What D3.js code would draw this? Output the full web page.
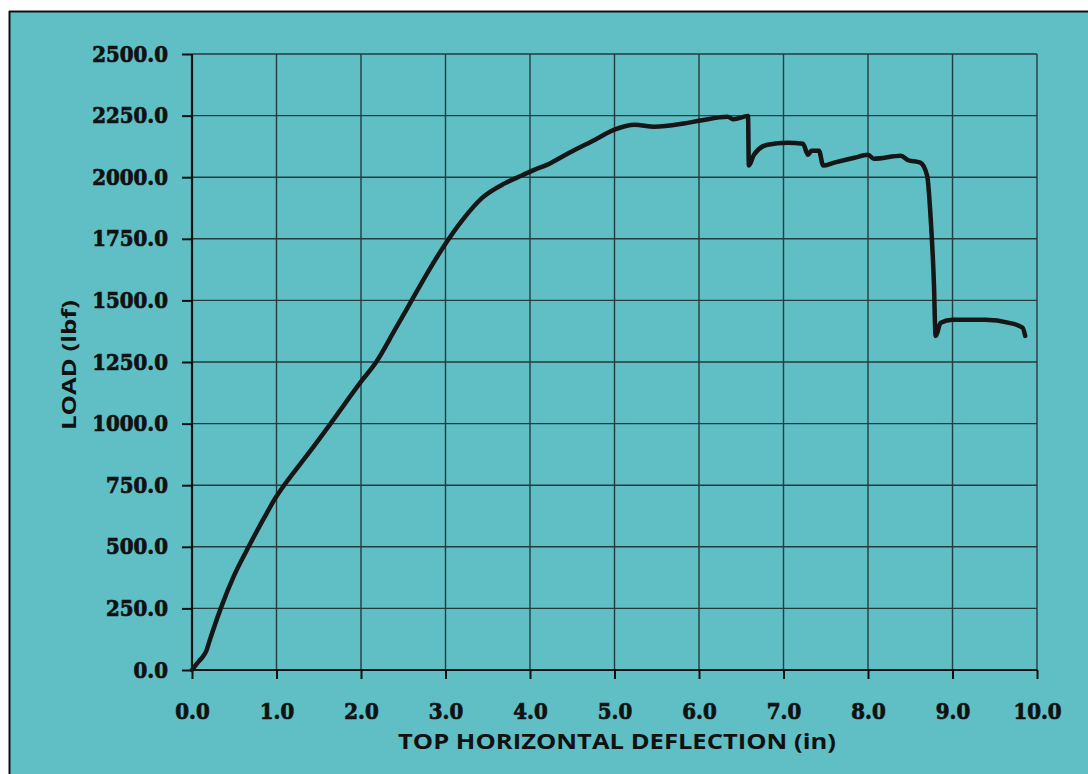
<!DOCTYPE html>
<html><head><meta charset="utf-8">
<script src="https://cdn.jsdelivr.net/npm/d3@7"></script>
<style>
html,body{margin:0;padding:0;background:#fff;}
svg{display:block;}
</style></head>
<body>
<svg id="chart" width="1088" height="774"></svg>
<script>
// Data
const deflection = [0, 0.08, 0.13, 0.17, 0.2, 0.34, 0.5, 0.67, 0.85, 1.0, 1.09, 1.2, 1.45, 1.64, 2.0, 2.18, 2.4, 2.6, 2.8, 3.0, 3.2, 3.44, 3.7, 3.91, 4.05, 4.2, 4.3, 4.46, 4.77, 5.0, 5.24, 5.47, 5.82, 6.02, 6.34, 6.41, 6.58, 6.59, 6.65, 6.81, 7.05, 7.23, 7.29, 7.33, 7.42, 7.47, 7.6, 7.84, 8.0, 8.07, 8.39, 8.47, 8.62, 8.7, 8.74, 8.78, 8.8, 8.86, 9.0, 9.39, 9.67, 9.83, 9.86];
const load = [0, 35, 55, 78, 110, 250, 385, 500, 615, 705, 750, 800, 912, 1000, 1170, 1250, 1380, 1500, 1620, 1730, 1826, 1918, 1975, 2008, 2030, 2050, 2068, 2098, 2152, 2193, 2213, 2205, 2218, 2230, 2245, 2235, 2248, 2047, 2091, 2132, 2140, 2136, 2091, 2107, 2107, 2047, 2059, 2079, 2091, 2075, 2087, 2070, 2059, 2006, 1843, 1571, 1356, 1409, 1421, 1421, 1409, 1389, 1356];
const xTicks = [0,1,2,3,4,5,6,7,8,9,10];
const yTicks = [0,250,500,750,1000,1250,1500,1750,2000,2250,2500];
const xTitle = "TOP HORIZONTAL DEFLECTION (in)";
const yTitle = "LOAD (lbf)";

(function(){
const svg = d3.select("#chart");
const W = 1088, H = 774;
const bg = "#5fbfc5";
const gridColor = "#263b3d";

// page background & frame
svg.append("rect").attr("x",0).attr("y",0).attr("width",W).attr("height",H).attr("fill","#ffffff");
svg.append("rect").attr("x",9).attr("y",11).attr("width",W).attr("height",H).attr("fill",bg);
svg.append("line").attr("x1",9).attr("x2",W).attr("y1",11.5).attr("y2",11.5).attr("stroke","#111").attr("stroke-width",2);
svg.append("line").attr("x1",9.5).attr("x2",9.5).attr("y1",11).attr("y2",H).attr("stroke","#111").attr("stroke-width",2);

const pL = 192, pR = 1037, pT = 54, pB = 670;
const x = d3.scaleLinear().domain([0,10]).range([pL,pR]);
const y = d3.scaleLinear().domain([0,2500]).range([pB,pT]);

// grid
const g = svg.append("g");
g.selectAll("line.hg").data(yTicks.filter(d=>d>0)).join("line")
  .attr("x1",pL).attr("x2",pR)
  .attr("y1",d=>y(d)).attr("y2",d=>y(d))
  .attr("stroke",gridColor).attr("stroke-width",1.4);
g.selectAll("line.vg").data(xTicks.filter(d=>d>0)).join("line")
  .attr("y1",pT).attr("y2",pB)
  .attr("x1",d=>x(d)).attr("x2",d=>x(d))
  .attr("stroke",gridColor).attr("stroke-width",1.4);

// axes
const tickFont = "'DejaVu Serif Condensed', 'DejaVu Serif', serif";
const xAxis = d3.axisBottom(x).tickValues(xTicks).tickSize(9).tickPadding(24)
  .tickFormat(d=>d3.format(".1f")(d));
const yAxis = d3.axisLeft(y).tickValues(yTicks).tickSize(10).tickPadding(14)
  .tickFormat(d=>d3.format(".1f")(d));

const gx = svg.append("g").attr("transform",`translate(0,${pB})`).call(xAxis);
const gy = svg.append("g").attr("transform",`translate(${pL},0)`).call(yAxis);
[gx,gy].forEach(a=>{
  a.select(".domain").attr("stroke","#111").attr("stroke-width",2.2);
  a.selectAll(".tick line").attr("stroke","#111").attr("stroke-width",2);
  a.selectAll(".tick text").attr("fill","#111")
    .attr("stroke","#111").attr("stroke-width",0.7)
    .style("font-family",tickFont).style("font-weight","bold").style("font-size","22px");
});
gx.select(".domain").attr("d",`M${pL},0H${pR}`);
gy.select(".domain").attr("d",`M0,${pB}V${pT}`);

// curve
const pts = deflection.map((d,i)=>[d,load[i]]);
svg.append("path").datum(pts)
  .attr("fill","none").attr("stroke","#161616").attr("stroke-width",4.5)
  .attr("stroke-linejoin","round").attr("stroke-linecap","round")
  .attr("d",d3.line().curve(d3.curveMonotoneX).x(d=>x(d[0])).y(d=>y(d[1])));

// titles
const titleFont = "'Open Sans', 'DejaVu Sans', sans-serif";
svg.append("text").attr("x",(398+836)/2).attr("y",749)
  .attr("text-anchor","middle").attr("fill","#111")
  .attr("textLength",438).attr("lengthAdjust","spacingAndGlyphs")
  .style("font-family",titleFont).style("font-weight","bold").style("font-size","22px")
  .text(xTitle);
svg.append("text").attr("transform","translate(76,365) rotate(-90)")
  .attr("text-anchor","middle").attr("fill","#111")
  .attr("textLength",130).attr("lengthAdjust","spacingAndGlyphs")
  .style("font-family",titleFont).style("font-weight","bold").style("font-size","20px")
  .text(yTitle);
})();
</script>
</body></html>
